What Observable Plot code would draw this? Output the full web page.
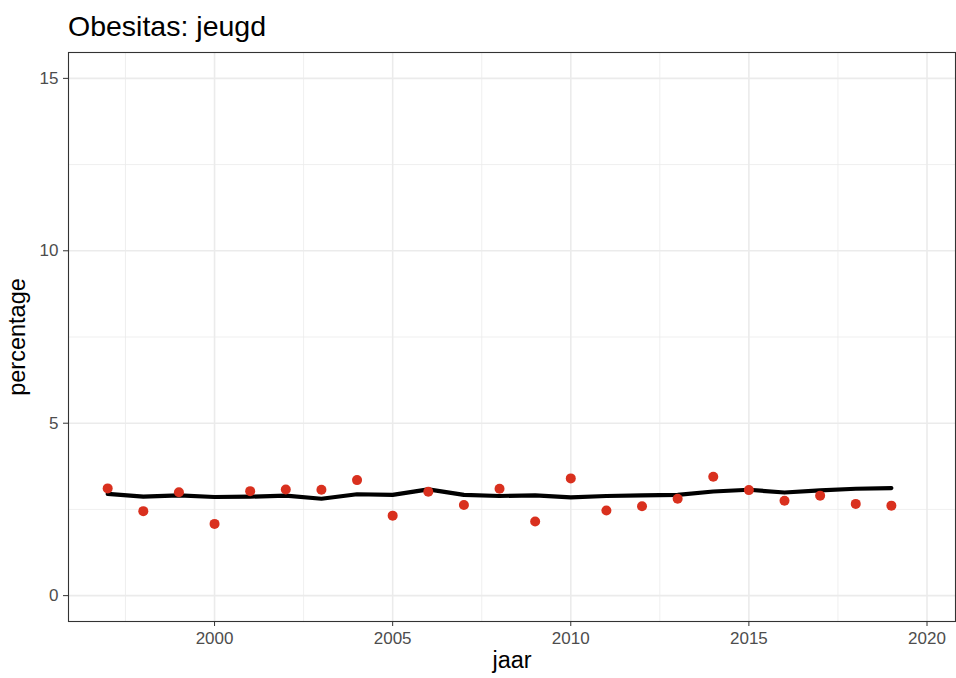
<!DOCTYPE html>
<html><head><meta charset="utf-8">
<script src="https://cdn.jsdelivr.net/npm/d3@7"></script>
<script src="https://cdn.jsdelivr.net/npm/@observablehq/plot@0.6"></script>
<style>
body{margin:0;background:#fff;font-family:"Liberation Sans",Arial,sans-serif;}
#title{height:44px;box-sizing:border-box;padding-left:68px;padding-top:10px;font-size:28.5px;color:#000;line-height:32px;white-space:nowrap;}
</style>
</head><body>
<div id="title">Obesitas: jeugd</div>
<div id="chart"></div>
<script>
const years = [1997,1998,1999,2000,2001,2002,2003,2004,2005,2006,2007,2008,2009,2010,2011,2012,2013,2014,2015,2016,2017,2018,2019];
const observed = [3.11,2.45,3.00,2.08,3.03,3.08,3.07,3.35,2.32,3.01,2.63,3.10,2.15,3.40,2.47,2.59,2.81,3.45,3.06,2.75,2.90,2.66,2.61];
const trend = [2.95,2.87,2.91,2.86,2.87,2.90,2.81,2.94,2.92,3.08,2.92,2.89,2.91,2.85,2.89,2.91,2.92,3.02,3.07,2.99,3.05,3.10,3.12];
const xTicks = [2000,2005,2010,2015,2020];
const xMinor = [1997.5,2002.5,2007.5,2012.5,2017.5];
const yTicks = [0,5,10,15];
const yMinor = [2.5,7.5,12.5];

const data = years.map((y,i)=>({jaar:y, obs:observed[i], trend:trend[i]}));

const chart = Plot.plot({
  width:956, height:634,
  marginTop:8, marginBottom:57, marginLeft:68, marginRight:1,
  style:{fontFamily:'"Liberation Sans",Arial,sans-serif', background:"#fff", overflow:"visible"},
  x:{domain:[1995.9,2020.8], label:null},
  y:{domain:[-0.75,15.75], label:null},
  marks:[
    Plot.ruleX(xMinor,{stroke:"#ebebeb", strokeWidth:0.8}),
    Plot.ruleY(yMinor,{stroke:"#ebebeb", strokeWidth:0.8}),
    Plot.ruleX(xTicks,{stroke:"#ebebeb", strokeWidth:1.6}),
    Plot.ruleY(yTicks,{stroke:"#ebebeb", strokeWidth:1.6}),
    Plot.line(data,{x:"jaar", y:"trend", stroke:"#000", strokeWidth:4.2}),
    Plot.dot(data,{x:"jaar", y:"obs", r:5, fill:"#d9301e", stroke:null}),
    Plot.frame({stroke:"#333", strokeWidth:1.1}),
    Plot.axisX({ticks:xTicks, tickFormat:d=>String(d), tickSize:5, tickPadding:5, fontSize:17, color:"#4d4d4d", stroke:"#333", label:null}),
    Plot.axisY({ticks:yTicks, tickSize:5, tickPadding:5, fontSize:17, color:"#4d4d4d", stroke:"#333", label:null}),
    Plot.text(["jaar"],{frameAnchor:"bottom", textAnchor:"middle", lineAnchor:"middle", dy:39, fontSize:23.5, fill:"#000", text:d=>d}),
    Plot.text(["percentage"],{frameAnchor:"left", textAnchor:"middle", lineAnchor:"middle", dx:-51, rotate:-90, fontSize:23.5, fill:"#000", text:d=>d})
  ]
});
document.getElementById("chart").append(chart);
</script>
</body></html>
